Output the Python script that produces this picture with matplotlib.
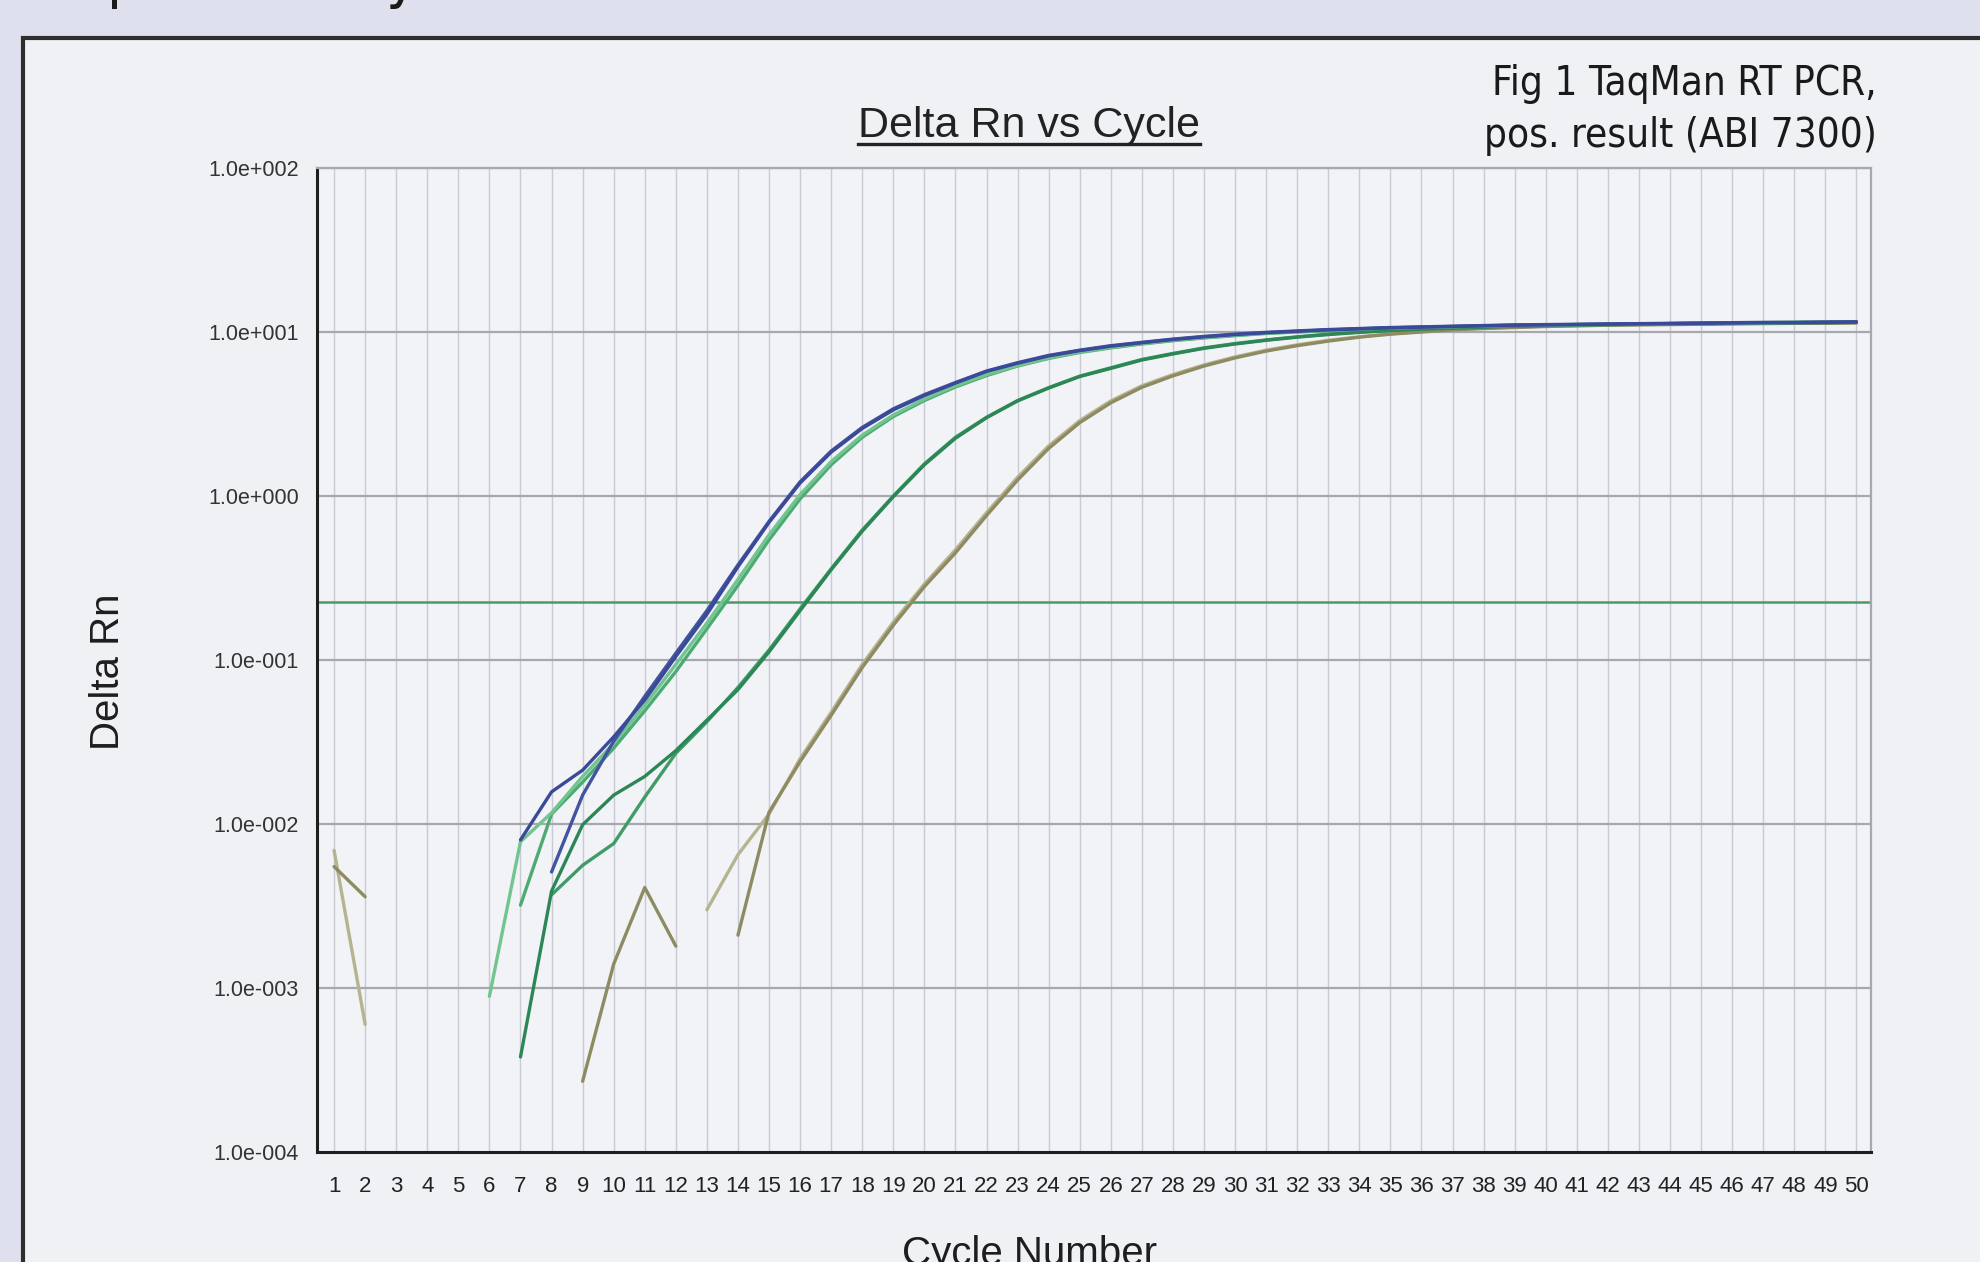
import numpy as np
import matplotlib
matplotlib.use("Agg")
import matplotlib.pyplot as plt
from matplotlib import font_manager
from matplotlib.patches import Rectangle
from matplotlib.lines import Line2D

n = np.nan
cycles = np.arange(1, 51)

# Delta Rn per cycle (nan = not plotted / <= 0)
blue_1 = [n, n, n, n, n, n, 0.0080, 0.0157, 0.0213, 0.034,
          0.057, 0.105, 0.19, 0.37, 0.69, 1.20, 1.85, 2.58, 3.35, 4.10,
          4.88, 5.75, 6.45, 7.15, 7.70, 8.20, 8.60, 9.00, 9.35, 9.65,
          9.90, 10.10, 10.30, 10.45, 10.60, 10.70, 10.80, 10.90, 11.00, 11.05,
          11.10, 11.15, 11.20, 11.25, 11.30, 11.35, 11.40, 11.40, 11.45, 11.50]
blue_2 = [n, n, n, n, n, n, n, 0.0051, 0.0150, 0.032,
          0.060, 0.110, 0.20, 0.38, 0.70, 1.22, 1.88, 2.62, 3.40, 4.15,
          4.92, 5.78, 6.50, 7.20, 7.75, 8.25, 8.65, 9.05, 9.40, 9.70,
          9.95, 10.15, 10.35, 10.50, 10.65, 10.75, 10.85, 10.95, 11.05, 11.10,
          11.15, 11.20, 11.25, 11.30, 11.35, 11.40, 11.45, 11.45, 11.50, 11.55]
lgreen_1 = [n, n, n, n, n, 0.00089, 0.0078, 0.0117, 0.0195, 0.031,
            0.053, 0.094, 0.168, 0.31, 0.58, 1.02, 1.62, 2.35, 3.12, 3.90,
            4.70, 5.50, 6.25, 6.95, 7.55, 8.05, 8.50, 8.90, 9.25, 9.55,
            9.85, 10.05, 10.25, 10.45, 10.60, 10.70, 10.80, 10.90, 11.00, 11.05,
            11.10, 11.15, 11.20, 11.25, 11.30, 11.35, 11.40, 11.45, 11.50, 11.55]
green_2 = [n, n, n, n, n, n, 0.0032, 0.0115, 0.018, 0.029,
           0.049, 0.085, 0.155, 0.285, 0.54, 0.96, 1.55, 2.28, 3.05, 3.82,
           4.62, 5.42, 6.20, 6.90, 7.50, 8.00, 8.45, 8.85, 9.20, 9.50,
           9.80, 10.00, 10.20, 10.40, 10.55, 10.65, 10.75, 10.85, 10.95, 11.00,
           11.05, 11.10, 11.15, 11.20, 11.25, 11.30, 11.35, 11.40, 11.45, 11.50]
dgreen_3 = [n, n, n, n, n, n, 0.00038, 0.0039, 0.0099, 0.0150,
            0.0195, 0.028, 0.043, 0.066, 0.112, 0.20, 0.355, 0.61, 0.99, 1.55,
            2.25, 3.00, 3.80, 4.55, 5.35, 6.00, 6.75, 7.35, 7.95, 8.45,
            8.90, 9.30, 9.65, 9.95, 10.20, 10.40, 10.55, 10.70, 10.85, 10.95,
            11.05, 11.10, 11.15, 11.20, 11.25, 11.30, 11.35, 11.40, 11.40, 11.45]
green_4 = [n, n, n, n, n, n, n, 0.0037, 0.0056, 0.0076,
           0.0146, 0.027, 0.042, 0.068, 0.115, 0.205, 0.36, 0.62, 1.00, 1.57,
           2.28, 3.02, 3.82, 4.58, 5.38, 6.05, 6.80, 7.40, 8.00, 8.50,
           8.95, 9.35, 9.70, 10.00, 10.25, 10.45, 10.60, 10.75, 10.90, 11.00,
           11.10, 11.15, 11.20, 11.25, 11.30, 11.35, 11.40, 11.45, 11.45, 11.50]
olive_1 = [0.0055, 0.0036, n, n, n, n, n, n, 0.00027, 0.0014,
           0.0041, 0.0018, n, 0.0021, 0.0118, 0.024, 0.046, 0.090, 0.163, 0.28,
           0.45, 0.76, 1.25, 1.95, 2.80, 3.70, 4.60, 5.40, 6.20, 6.95,
           7.65, 8.25, 8.80, 9.30, 9.70, 10.00, 10.30, 10.50, 10.65, 10.80,
           10.90, 11.00, 11.05, 11.10, 11.15, 11.20, 11.25, 11.30, 11.30, 11.35]
olive_2 = [0.0069, 0.0006, n, n, n, n, n, n, n, n,
           n, n, 0.0030, 0.0065, 0.0115, 0.025, 0.048, 0.094, 0.17, 0.29,
           0.47, 0.79, 1.30, 2.02, 2.88, 3.80, 4.70, 5.50, 6.30, 7.05,
           7.75, 8.35, 8.90, 9.35, 9.75, 10.05, 10.35, 10.55, 10.70, 10.85,
           10.95, 11.05, 11.10, 11.15, 11.20, 11.25, 11.30, 11.35, 11.35, 11.40]
threshold = 0.226

series = [
    (olive_2, "#b6b391"),
    (olive_1, "#8e8b63"),
    (green_4, "#3f9c68"),
    (dgreen_3, "#2d8656"),
    (green_2, "#4cab73"),
    (lgreen_1, "#72c490"),
    (blue_2, "#42539f"),
    (blue_1, "#3a4a98"),
]

names = {f.name for f in font_manager.fontManager.ttflist}
sans = "Liberation Sans" if "Liberation Sans" in names else "DejaVu Sans"
narrow = "Liberation Sans Narrow" if "Liberation Sans Narrow" in names else "DejaVu Sans"
plt.rcParams["font.family"] = [sans, "DejaVu Sans"]

W, H = 1980, 1262
fig = plt.figure(figsize=(W / 100, H / 100), dpi=100, facecolor="#dee0ed")

# scanned paper sheet
fig.patches.append(Rectangle((23 / W, -0.01), 1, 1.01 - 38 / H, transform=fig.transFigure,
                             facecolor="#eff1f4", edgecolor="#2e2e2e", linewidth=3,
                             zorder=-10))

# descenders of the slide text above, cut off by the crop
fig.text(124 / W, 1 + 4 / H, "p", fontsize=44, color="#1a1a1a", ha="center", va="baseline",
         family=[narrow, "DejaVu Sans"], fontstretch="condensed")
fig.text(402 / W, 1 + 4 / H, "y", fontsize=44, color="#1a1a1a", ha="center", va="baseline",
         family=[narrow, "DejaVu Sans"], fontstretch="condensed")

ax = fig.add_axes([317 / W, 1 - 1152 / H, (1871 - 317) / W, (1152 - 168) / H])
ax.set_facecolor("#f1f3f6")
ax.set_yscale("log")
ax.set_ylim(1e-4, 1e2)
ax.set_xlim(0.45, 50.47)

for c in cycles:
    ax.axvline(c, color="#c9cad3", linewidth=1.0, zorder=1)
for d in [1e-3, 1e-2, 1e-1, 1e0, 1e1, 1e2]:
    ax.axhline(d, color="#a7a7ae", linewidth=1.6, zorder=1)

ax.axhline(threshold, color="#4e9a66", linewidth=1.8, zorder=2)

for vals, col in series:
    ax.plot(cycles, vals, color=col, linewidth=2.4, zorder=3,
            solid_joinstyle="round", solid_capstyle="round")

ax.set_xticks(cycles)
ax.set_xticklabels([str(c) for c in cycles])
ax.set_yticks([1e-4, 1e-3, 1e-2, 1e-1, 1e0, 1e1, 1e2])
ax.set_yticklabels(["1.0e-004", "1.0e-003", "1.0e-002", "1.0e-001",
                    "1.0e+000", "1.0e+001", "1.0e+002"])
ax.minorticks_off()
ax.tick_params(axis="x", length=0, pad=17, labelsize=16, labelcolor="#222222")
ax.tick_params(axis="y", length=0, pad=13, labelsize=15.5, labelcolor="#333333")

for s in ["left", "bottom"]:
    ax.spines[s].set_color("#1e1e1e")
    ax.spines[s].set_linewidth(2.2)
for s in ["top", "right"]:
    ax.spines[s].set_color("#a7a7ae")
    ax.spines[s].set_linewidth(1.6)

fig.text(1029 / W, 1 - 137 / H, "Delta Rn vs Cycle", fontsize=31, color="#222222",
         ha="center", va="baseline")
fig.text(108 / W, 1 - 672 / H, "Delta Rn", fontsize=29, color="#1e1e1e",
         rotation=90, ha="center", va="center")
fig.text(1029 / W, 1 - 1265 / H, "Cycle Number", fontsize=29, color="#1e1e1e",
         ha="center", va="baseline")
fig.text(1877 / W, 1 - 147 / H, "Fig 1 TaqMan RT PCR,\npos. result (ABI 7300)",
         fontsize=29, color="#1a1a1a", ha="right", va="baseline", linespacing=1.4,
         family=[narrow, "DejaVu Sans"], fontstretch="condensed", multialignment="right")

# underline the title
fig.canvas.draw()
title = [t for t in fig.texts if t.get_text() == "Delta Rn vs Cycle"][0]
bb = title.get_window_extent(fig.canvas.get_renderer())
uy = 1 - 144 / H
fig.lines.append(Line2D([bb.x0 / W, bb.x1 / W], [uy, uy], transform=fig.transFigure,
                        color="#222222", linewidth=2.4))

fig.savefig("out.png", dpi=100, facecolor=fig.get_facecolor())
